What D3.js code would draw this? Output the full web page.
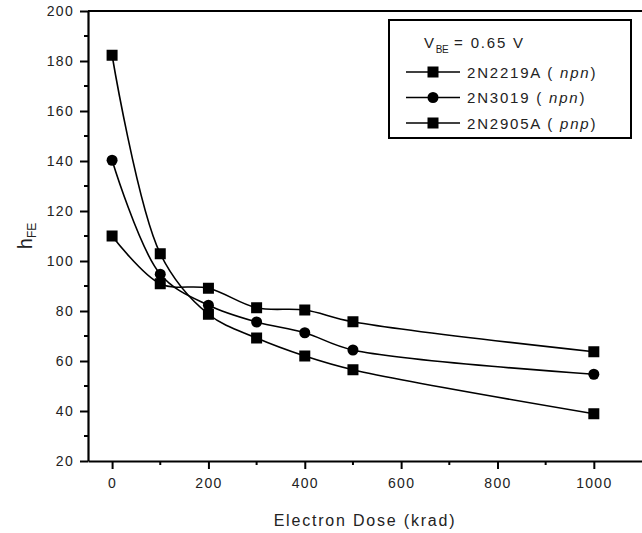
<!DOCTYPE html>
<html>
<head>
<meta charset="utf-8">
<script src="https://cdn.jsdelivr.net/npm/d3@7"></script>
<style>
  body { margin: 0; background: #fff; }
  svg { font-family: "Liberation Sans", Arial, sans-serif; }
</style>
</head>
<body>
<svg width="642" height="533"></svg>
<script>
const svg = d3.select("svg");
const FONT = "'Liberation Sans', Arial, sans-serif";

// data
const doses = [0, 100, 200, 300, 400, 500, 1000];
const hfe2N2219A = [182.3, 102.9, 78.7, 69.2, 62.0, 56.5, 38.9];
const hfe2N3019 = [140.3, 94.7, 82.3, 75.6, 71.3, 64.4, 54.7];
const hfe2N2905A = [110.0, 90.9, 89.1, 81.3, 80.4, 75.7, 63.7];
const xTicks = [0, 200, 400, 600, 800, 1000];
const yTicks = [20, 40, 60, 80, 100, 120, 140, 160, 180, 200];

const series = [
    { name: "2N2219A", kind: "npn", marker: "square", values: hfe2N2219A },
    { name: "2N3019", kind: "npn", marker: "circle", values: hfe2N3019 },
    { name: "2N2905A", kind: "pnp", marker: "square", values: hfe2N2905A }
];

const margin = { top: 11, left: 88, bottom: 461, right: 642 };

const xScale = d3.scaleLinear()
    .domain([-50, 1100])
    .range([margin.left, margin.right]);

const yScale = d3.scaleLinear()
    .domain([20, 200])
    .range([margin.bottom, margin.top]);

// axes
const xAxis = svg.append("g")
    .attr("transform", `translate(0, ${margin.bottom})`)
    .call(d3.axisBottom(xScale).tickValues(xTicks).tickFormat(d3.format("d"))
        .tickSize(8).tickSizeOuter(0).tickPadding(9));
const yAxis = svg.append("g")
    .attr("transform", `translate(${margin.left}, 0)`)
    .call(d3.axisLeft(yScale).tickValues(yTicks).tickSize(8).tickSizeOuter(0).tickPadding(6));

// minor ticks
svg.append("g").selectAll("line")
    .data(d3.range(100, 1100, 200))
    .join("line")
        .attr("x1", d => xScale(d)).attr("x2", d => xScale(d))
        .attr("y1", margin.bottom).attr("y2", margin.bottom + 4)
        .attr("stroke", "#000").attr("stroke-width", 2);
svg.append("g").selectAll("line")
    .data(d3.range(30, 200, 20))
    .join("line")
        .attr("y1", d => yScale(d)).attr("y2", d => yScale(d))
        .attr("x1", margin.left - 4).attr("x2", margin.left)
        .attr("stroke", "#000").attr("stroke-width", 2);

[xAxis, yAxis].forEach(ax => {
    ax.attr("font-family", FONT);
    ax.select(".domain").attr("stroke-width", 2.2);
    ax.selectAll(".tick line").attr("stroke-width", 2);
    ax.selectAll(".tick text")
        .attr("font-size", 14)
        .attr("letter-spacing", 1.3)
        .attr("fill", "#222");
});

// top frame line
svg.append("line")
    .attr("x1", margin.left).attr("x2", margin.right)
    .attr("y1", margin.top).attr("y2", margin.top)
    .attr("stroke", "#000").attr("stroke-width", 2.2);

// axis titles
svg.append("text")
    .attr("x", (margin.left + margin.right) / 2)
    .attr("y", 526)
    .attr("text-anchor", "middle")
    .attr("font-size", 16)
    .attr("letter-spacing", 1.8)
    .attr("fill", "#222")
    .text("Electron Dose (krad)");

const yTitle = svg.append("text")
    .attr("transform", "translate(32, 236) rotate(-90)")
    .attr("text-anchor", "middle")
    .attr("font-size", 20)
    .attr("fill", "#222");
yTitle.append("tspan").text("h");
yTitle.append("tspan").attr("font-size", 12).attr("dy", 4).text("FE");

// curves
const line = d3.line()
    .x((d, i) => xScale(doses[i]))
    .y(d => yScale(d))
    .curve(d3.curveCatmullRom.alpha(0.5));

svg.append("g").selectAll("path")
    .data(series)
    .join("path")
        .attr("d", d => line(d.values))
        .attr("fill", "none")
        .attr("stroke", "#000")
        .attr("stroke-width", 1.6);

const drawMarker = (g, type, cx, cy) => {
    if (type === "square") {
        g.append("rect")
            .attr("x", cx - 5.5).attr("y", cy - 5.5)
            .attr("width", 11).attr("height", 11)
            .attr("fill", "#000");
    } else {
        g.append("circle")
            .attr("cx", cx).attr("cy", cy).attr("r", 5.5)
            .attr("fill", "#000");
    }
};

const markers = svg.append("g");
series.forEach(s => {
    s.values.forEach((v, i) => drawMarker(markers, s.marker, xScale(doses[i]), yScale(v)));
});

// legend
const legend = svg.append("g");
legend.append("rect")
    .attr("x", 389).attr("y", 20)
    .attr("width", 242).attr("height", 118)
    .attr("fill", "#fff")
    .attr("stroke", "#000")
    .attr("stroke-width", 2);

const vbe = legend.append("text")
    .attr("x", 424).attr("y", 48)
    .attr("font-size", 15)
    .attr("letter-spacing", 1.8)
    .attr("fill", "#222");
vbe.append("tspan").text("V");
vbe.append("tspan").attr("font-size", 10).attr("dy", 5).attr("letter-spacing", -0.5).text("BE");
vbe.append("tspan").attr("dy", -5).text(" = 0.65 V");

series.forEach((s, i) => {
    const cy = 72 + i * 25.5;
    legend.append("line")
        .attr("x1", 406).attr("x2", 460)
        .attr("y1", cy).attr("y2", cy)
        .attr("stroke", "#000").attr("stroke-width", 1.6);
    drawMarker(legend, s.marker, 433, cy);
    const t = legend.append("text")
        .attr("x", 467).attr("y", cy + 5.5)
        .attr("font-size", 15)
        .attr("letter-spacing", 1.8)
        .attr("fill", "#222");
    t.append("tspan").text(`${s.name} ( `);
    t.append("tspan").attr("font-style", "italic").text(s.kind);
    t.append("tspan").text(")");
});
</script>
</body>
</html>
